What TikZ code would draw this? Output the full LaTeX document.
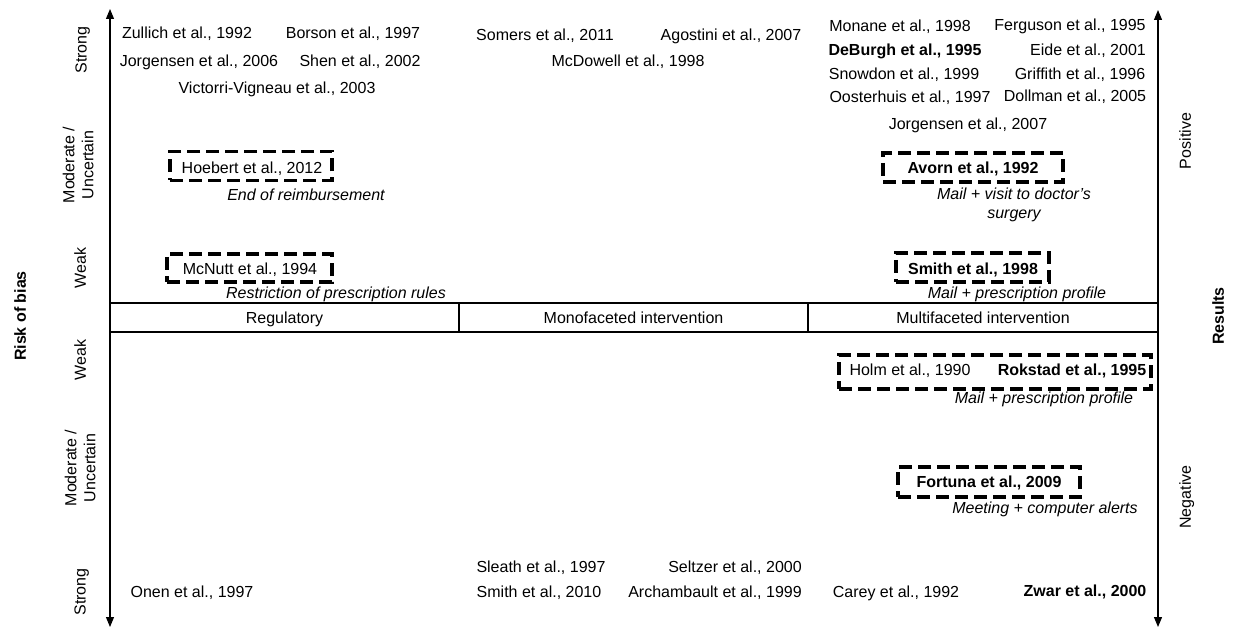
\documentclass[tikz,border=0pt]{standalone}
\usepackage{fontspec}
\setmainfont{Liberation Sans}
\usetikzlibrary{arrows.meta}
\begin{document}
\begin{tikzpicture}[x=1pt,y=-1pt,
  lbl/.style={font=\fontsize{16}{19}\selectfont, inner sep=0pt, anchor=center, text depth=0pt},
  bl/.style={lbl, font=\fontsize{16}{19}\selectfont\bfseries},
  it/.style={lbl, font=\fontsize{16}{19}\selectfont\itshape, align=center},
  dbox/.style={draw, line width=3.2pt, dash pattern=on 13pt off 6pt, inner sep=0pt},
  axis/.style={line width=1.1pt, -{Triangle[width=8pt,length=10pt]}},
  rot/.style={lbl, rotate=90, align=center},
  rotb/.style={rot, font=\fontsize{16}{19}\selectfont\bfseries},
  band/.style={line width=1.2pt}]
\useasboundingbox (0,0) rectangle (1236,628);

% axes
\coordinate (lmid) at (110,317);
\coordinate (ltop) at (110,9);
\coordinate (lbot) at (110,627);
\coordinate (rmid) at (1158,317);
\coordinate (rtop) at (1158,10);
\coordinate (rbot) at (1158,627);
\draw[axis] (lmid) -- (ltop);
\draw[axis] (lmid) -- (lbot);
\draw[axis] (rmid) -- (rtop);
\draw[axis] (rmid) -- (rbot);

% central band
\coordinate (bandnw) at (110,303);
\coordinate (bandse) at (1158,332);
\coordinate (d1t) at (459,303);
\coordinate (d1b) at (459,332);
\coordinate (d2t) at (808,303);
\coordinate (d2b) at (808,332);
\draw[band] (bandnw) rectangle (bandse);
\draw[band] (d1t) -- (d1b);
\draw[band] (d2t) -- (d2b);
\node[lbl] (reg) at (284.5,318) {Regulatory};
\node[lbl] (mono) at (633.5,318) {Monofaceted intervention};
\node[lbl] (multi) at (983,318) {Multifaceted intervention};

% axis labels
\node[rotb] (risk) at (20,316) {Risk of bias};
\node[rotb] (results) at (1218,316) {Results};
\node[rot] (pos) at (1185,141) {Positive};
\node[rot] (neg) at (1185,497) {Negative};
\node[rot] (ls1) at (81,50) {Strong};
\node[rot] (lm1) at (78,165) {Moderate /\\Uncertain};
\node[rot] (lw1) at (80,268) {Weak};
\node[rot] (lw2) at (80,360) {Weak};
\node[rot] (lm2) at (80,468) {Moderate /\\Uncertain};
\node[rot] (ls2) at (80,592) {Strong};

% top left
\node[lbl] (zullich) at (187,33) {Zullich et al., 1992};
\node[lbl] (borson) at (353,33) {Borson et al., 1997};
\node[lbl] (jorg06) at (199,61) {Jorgensen et al., 2006};
\node[lbl] (shen) at (360,61) {Shen et al., 2002};
\node[lbl] (victorri) at (277,88) {Victorri-Vigneau et al., 2003};
\node[dbox, minimum width=162pt, minimum height=29pt] (hoebox) at (251,166) {};
\node[lbl] (hoebert) at (252,168) {Hoebert et al., 2012};
\node[it] (endre) at (306,195) {End of reimbursement};
\node[dbox, minimum width=165pt, minimum height=28pt] (mcnbox) at (249.5,268) {};
\node[lbl] (mcnutt) at (250,269) {McNutt et al., 1994};
\node[it] (restr) at (336,293) {Restriction of prescription rules};

% top middle
\node[lbl] (somers) at (545,35) {Somers et al., 2011};
\node[lbl] (agostini) at (731,35) {Agostini et al., 2007};
\node[lbl] (mcdowell) at (628,61) {McDowell et al., 1998};

% top right
\node[lbl] (monane) at (900,26) {Monane et al., 1998};
\node[lbl] (ferguson) at (1070,25) {Ferguson et al., 1995};
\node[bl] (deburgh) at (905,50) {DeBurgh et al., 1995};
\node[lbl] (eide) at (1088,50) {Eide et al., 2001};
\node[lbl] (snowdon) at (904,74) {Snowdon et al., 1999};
\node[lbl] (griffith) at (1080,74) {Griffith et al., 1996};
\node[lbl] (oosterhuis) at (910,97) {Oosterhuis et al., 1997};
\node[lbl] (dollman) at (1075,96) {Dollman et al., 2005};
\node[lbl] (jorg07) at (968,124) {Jorgensen et al., 2007};
\node[dbox, minimum width=180pt, minimum height=29pt] (avobox) at (973,167.5) {};
\node[bl] (avorn) at (973,168) {Avorn et al., 1992};
\node[it, text depth=] (mailvisit) at (1014,205) {Mail + visit to doctor’s\\surgery};
\node[dbox, minimum width=153pt, minimum height=29pt] (smibox) at (972.5,267.5) {};
\node[bl] (smith98) at (973,269) {Smith et al., 1998};
\node[it] (mailpp1) at (1017,293) {Mail + prescription profile};

% bottom right
\node[dbox, minimum width=312pt, minimum height=34pt] (holbox) at (995,372) {};
\node[lbl] (holm) at (910,370) {Holm et al., 1990};
\node[bl] (rokstad) at (1072,370) {Rokstad et al., 1995};
\node[it] (mailpp2) at (1044,398) {Mail + prescription profile};
\node[dbox, minimum width=182pt, minimum height=30pt] (forbox) at (989,482) {};
\node[bl] (fortuna) at (989,482) {Fortuna et al., 2009};
\node[it] (meeting) at (1045,508) {Meeting + computer alerts};
\node[lbl] (carey) at (896,592) {Carey et al., 1992};
\node[bl] (zwar) at (1085,591) {Zwar et al., 2000};

% bottom middle / left
\node[lbl] (sleath) at (541,567) {Sleath et al., 1997};
\node[lbl] (seltzer) at (735,567) {Seltzer et al., 2000};
\node[lbl] (smith10) at (539,592) {Smith et al., 2010};
\node[lbl] (archam) at (715,592) {Archambault et al., 1999};
\node[lbl] (onen) at (192,592) {Onen et al., 1997};
\end{tikzpicture}
\end{document}
